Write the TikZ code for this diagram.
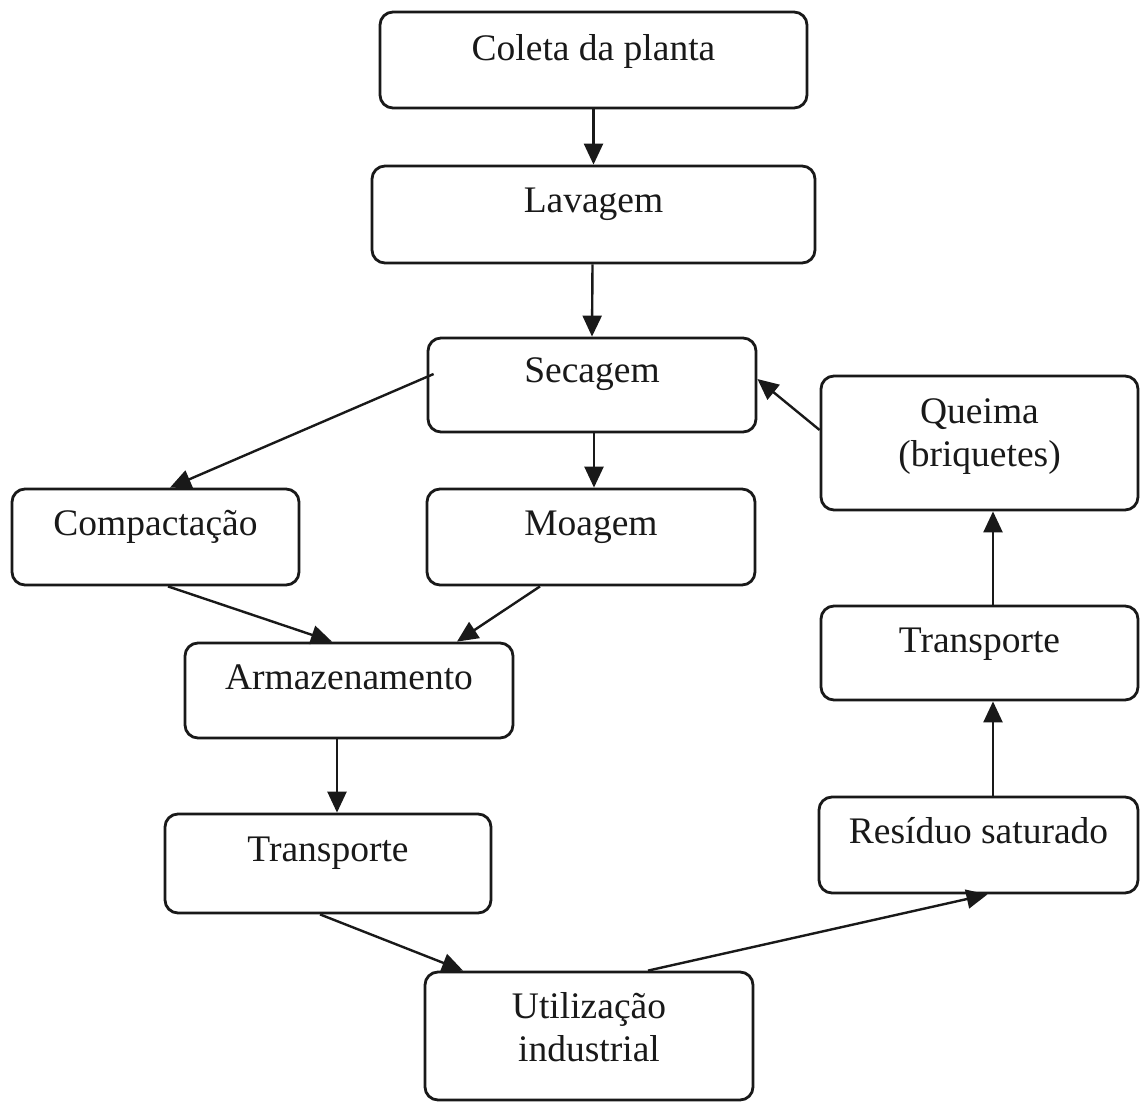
\documentclass[tikz,border=0pt]{standalone}
\usepackage{fontspec}
\setmainfont{Liberation Serif}
\usetikzlibrary{arrows.meta,calc}
\begin{document}
\begin{tikzpicture}[x=1pt,y=-1pt,
  box/.style={draw=black!90,line width=2.8pt,rounded corners=13pt,inner sep=0pt},
  lbl/.style={anchor=base,inner sep=0pt,font=\fontsize{37.5}{42.5}\selectfont,text=black!90},
  conn/.style={draw=black!90,line width=2.4pt,-{Triangle[length=21pt,width=19pt]}}]
\fill[white] (0,0) rectangle (1140,1103);
\useasboundingbox (0,0) rectangle (1140,1103);
% boxes
\node[box,minimum width=427pt,minimum height=96pt] (coleta) at (593.5,60) {};
\node[box,minimum width=443pt,minimum height=97pt] (lavagem) at (593.5,214.5) {};
\node[box,minimum width=328pt,minimum height=94pt] (secagem) at (592,385) {};
\node[box,minimum width=317pt,minimum height=134pt] (queima) at (979.5,443) {};
\node[box,minimum width=287pt,minimum height=96pt] (compact) at (155.5,537) {};
\node[box,minimum width=328pt,minimum height=96pt] (moagem) at (591,537) {};
\node[box,minimum width=317pt,minimum height=94pt] (transpR) at (979.5,653) {};
\node[box,minimum width=328pt,minimum height=95pt] (armaz) at (349,690.5) {};
\node[box,minimum width=319pt,minimum height=96pt] (residuo) at (978.5,845) {};
\node[box,minimum width=326pt,minimum height=99pt] (transpL) at (328,863.5) {};
\node[box,minimum width=328pt,minimum height=128pt] (util) at (589,1036) {};
% labels
\node[lbl] (coletaT) at ([yshift=-50pt]coleta.north) {Coleta da planta};
\node[lbl] (lavagemT) at ([yshift=-48pt]lavagem.north) {Lavagem};
\node[lbl] (secagemT) at ([yshift=-46pt]secagem.north) {Secagem};
\node[lbl] (queimaT) at ([yshift=-49pt]queima.north) {\begin{tabular}[t]{@{}c@{}}Queima\\(briquetes)\end{tabular}};
\node[lbl] (compactT) at ([yshift=-48pt]compact.north) {Compactação};
\node[lbl] (moagemT) at ([yshift=-48pt]moagem.north) {Moagem};
\node[lbl] (transpRT) at ([yshift=-48pt]transpR.north) {Transporte};
\node[lbl] (armazT) at ([yshift=-48pt]armaz.north) {Armazenamento};
\node[lbl] (residuoT) at ([yshift=-48pt]residuo.north) {Resíduo saturado};
\node[lbl] (transpLT) at ([yshift=-49pt]transpL.north) {Transporte};
\node[lbl] (utilT) at ([yshift=-48pt]util.north) {\begin{tabular}[t]{@{}c@{}}Utilização\\industrial\end{tabular}};
% connectors
\draw[conn] (coleta.south) -- (lavagem.north);
\draw[conn] ($(lavagem.south)+(-1,0)$) -- ($(secagem.north)+(0,0)$);
\draw[conn] ($(secagem.south)+(2,0)$) -- ($(moagem.north)+(3,0)$);
\draw[conn] ($(secagem.west)+(7,-11)$) -- ($(compact.north)+(14.5,0)$);
\draw[conn] ($(compact.south)+(12.5,0)$) -- ($(armaz.north)+(-17,0)$);
\draw[conn] ($(moagem.south)+(-51,0)$) -- ($(armaz.north)+(108,0)$);
\draw[conn] ($(armaz.south)+(-12,0)$) -- ($(transpL.north)+(9,0)$);
\draw[conn] ($(transpL.south)+(-8,0)$) -- ($(util.north)+(-126,0)$);
\draw[conn] ($(util.north)+(59,0)$) -- ($(residuo.south)+(9,0)$);
\draw[conn] ($(residuo.north)+(14.5,0)$) -- ($(transpR.south)+(13.5,0)$);
\draw[conn] ($(transpR.north)+(13.5,0)$) -- ($(queima.south)+(13.5,0)$);
\draw[conn] ($(queima.west)+(0,-13)$) -- ($(secagem.east)+(0,-6)$);
\end{tikzpicture}
\end{document}
